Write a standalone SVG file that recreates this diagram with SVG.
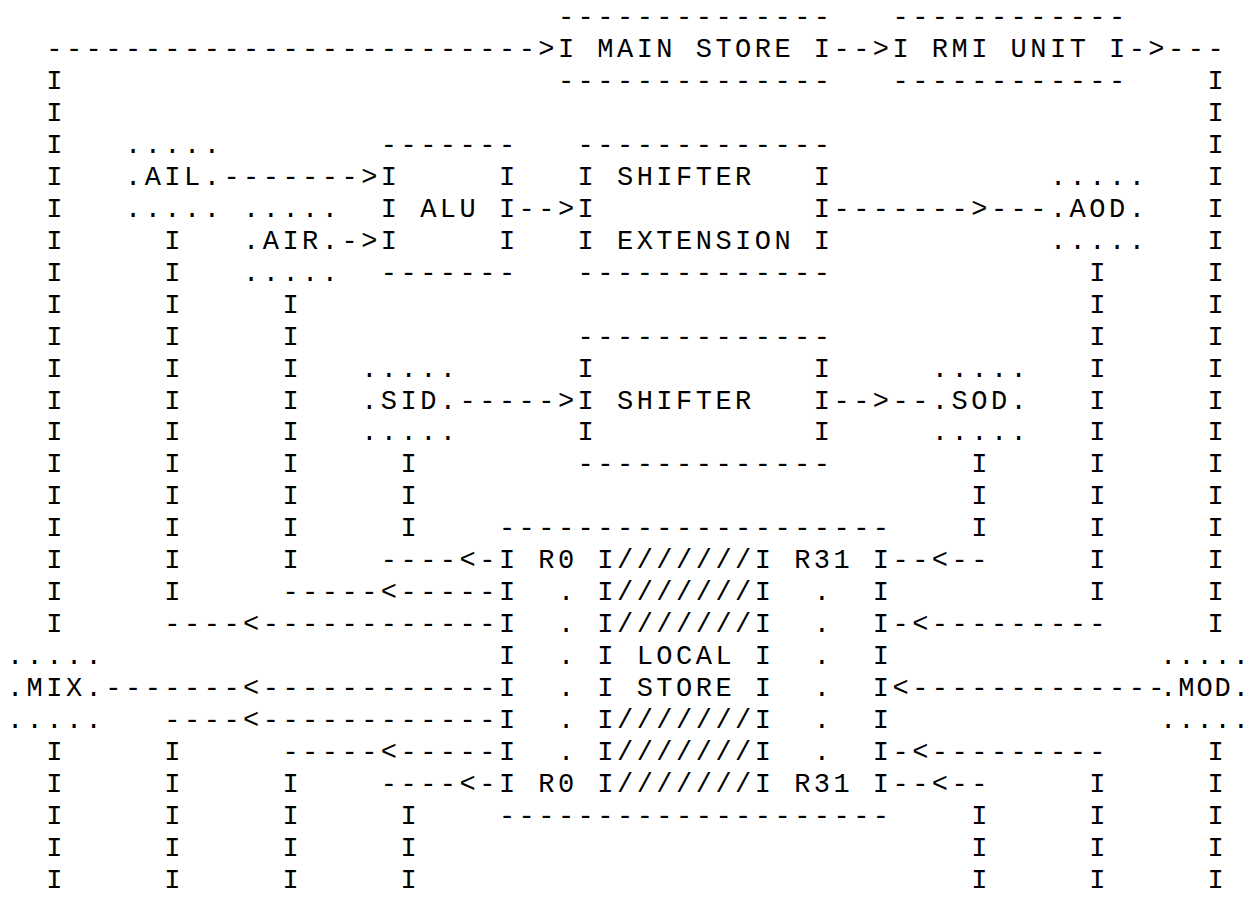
<svg xmlns="http://www.w3.org/2000/svg" width="1252" height="898" viewBox="0 0 1252 898" xml:space="preserve">
<style>
text{font-family:"Liberation Mono","DejaVu Sans Mono",monospace;font-size:27px;letter-spacing:3.48px;fill:#000;white-space:pre}
#mod text{letter-spacing:2px}
</style>
<rect width="1252" height="898" fill="#fff"/>
<g id="main-store">
<text x="557.94" y="25">--------------</text>
<text x="557.94" y="56.96">I MAIN STORE I</text>
<text x="557.94" y="88.92">--------------</text>
</g>
<g id="rmi-unit">
<text x="892.5" y="25">------------</text>
<text x="892.5" y="56.96">I RMI UNIT I</text>
<text x="892.5" y="88.92">------------</text>
</g>
<g id="ail">
<text x="124.98" y="152.84">.....</text>
<text x="124.98" y="184.8">.AIL.</text>
<text x="124.98" y="216.76">.....</text>
</g>
<g id="air">
<text x="243.06" y="216.76">.....</text>
<text x="243.06" y="248.72">.AIR.</text>
<text x="243.06" y="280.68">.....</text>
</g>
<g id="alu">
<text x="380.82" y="152.84">-------</text>
<text x="380.82" y="184.8">I     I</text>
<text x="380.82" y="216.76">I ALU I</text>
<text x="380.82" y="248.72">I     I</text>
<text x="380.82" y="280.68">-------</text>
</g>
<g id="shifter-extension">
<text x="577.62" y="152.84">-------------</text>
<text x="577.62" y="184.8">I SHIFTER   I</text>
<text x="577.62" y="216.76">I           I</text>
<text x="577.62" y="248.72">I EXTENSION I</text>
<text x="577.62" y="280.68">-------------</text>
</g>
<g id="aod">
<text x="1049.94" y="184.8">.....</text>
<text x="1049.94" y="216.76">.AOD.</text>
<text x="1049.94" y="248.72">.....</text>
</g>
<g id="sid">
<text x="361.14" y="376.56">.....</text>
<text x="361.14" y="408.52">.SID.</text>
<text x="361.14" y="440.48">.....</text>
</g>
<g id="shifter">
<text x="577.62" y="344.6">-------------</text>
<text x="577.62" y="376.56">I           I</text>
<text x="577.62" y="408.52">I SHIFTER   I</text>
<text x="577.62" y="440.48">I           I</text>
<text x="577.62" y="472.44">-------------</text>
</g>
<g id="sod">
<text x="931.86" y="376.56">.....</text>
<text x="931.86" y="408.52">.SOD.</text>
<text x="931.86" y="440.48">.....</text>
</g>
<g id="local-store">
<text x="498.9" y="536.36">--------------------</text>
<text x="498.9" y="568.32">I R0 I///////I R31 I</text>
<text x="498.9" y="600.28">I  . I///////I  .  I</text>
<text x="498.9" y="632.24">I  . I///////I  .  I</text>
<text x="498.9" y="664.2">I  . I LOCAL I  .  I</text>
<text x="498.9" y="696.16">I  . I STORE I  .  I</text>
<text x="498.9" y="728.12">I  . I///////I  .  I</text>
<text x="498.9" y="760.08">I  . I///////I  .  I</text>
<text x="498.9" y="792.04">I R0 I///////I R31 I</text>
<text x="498.9" y="824">--------------------</text>
</g>
<g id="mix">
<text x="6.9" y="664.2">.....</text>
<text x="6.9" y="696.16">.MIX.</text>
<text x="6.9" y="728.12">.....</text>
</g>
<g id="mod">
<text x="1160" y="664.2">.....</text>
<text x="1160" y="696.16">.MOD.</text>
<text x="1160" y="728.12">.....</text>
</g>
<g id="connectors">
<text x="46.26" y="56.96">-------------------------&gt;</text>
<text x="833.46" y="56.96">--&gt;</text>
<text x="1128.66" y="56.96">-&gt;---</text>
<text x="223.38" y="184.8">-------&gt;</text>
<text x="518.58" y="216.76">--&gt;</text>
<text x="833.46" y="216.76">-------&gt;---</text>
<text x="341.46" y="248.72">-&gt;</text>
<text x="459.54" y="408.52">-----&gt;</text>
<text x="833.46" y="408.52">--&gt;--</text>
<text x="380.82" y="568.32">----&lt;-</text>
<text x="892.5" y="568.32">--&lt;--</text>
<text x="282.42" y="600.28">-----&lt;-----</text>
<text x="164.34" y="632.24">----&lt;------------</text>
<text x="892.5" y="632.24">-&lt;---------</text>
<text x="105.3" y="696.16">-------&lt;------------</text>
<text x="892.5" y="696.16">&lt;-------------</text>
<text x="164.34" y="728.12">----&lt;------------</text>
<text x="282.42" y="760.08">-----&lt;-----</text>
<text x="892.5" y="760.08">-&lt;---------</text>
<text x="380.82" y="792.04">----&lt;-</text>
<text x="892.5" y="792.04">--&lt;--</text>
<text><tspan x="46.26" y="88.92">I</tspan><tspan x="46.26" y="120.88">I</tspan><tspan x="46.26" y="152.84">I</tspan><tspan x="46.26" y="184.8">I</tspan><tspan x="46.26" y="216.76">I</tspan><tspan x="46.26" y="248.72">I</tspan><tspan x="46.26" y="280.68">I</tspan><tspan x="46.26" y="312.64">I</tspan><tspan x="46.26" y="344.6">I</tspan><tspan x="46.26" y="376.56">I</tspan><tspan x="46.26" y="408.52">I</tspan><tspan x="46.26" y="440.48">I</tspan><tspan x="46.26" y="472.44">I</tspan><tspan x="46.26" y="504.4">I</tspan><tspan x="46.26" y="536.36">I</tspan><tspan x="46.26" y="568.32">I</tspan><tspan x="46.26" y="600.28">I</tspan><tspan x="46.26" y="632.24">I</tspan><tspan x="46.26" y="760.08">I</tspan><tspan x="46.26" y="792.04">I</tspan><tspan x="46.26" y="824">I</tspan><tspan x="46.26" y="855.96">I</tspan><tspan x="46.26" y="887.92">I</tspan></text>
<text><tspan x="1207.38" y="88.92">I</tspan><tspan x="1207.38" y="120.88">I</tspan><tspan x="1207.38" y="152.84">I</tspan><tspan x="1207.38" y="184.8">I</tspan><tspan x="1207.38" y="216.76">I</tspan><tspan x="1207.38" y="248.72">I</tspan><tspan x="1207.38" y="280.68">I</tspan><tspan x="1207.38" y="312.64">I</tspan><tspan x="1207.38" y="344.6">I</tspan><tspan x="1207.38" y="376.56">I</tspan><tspan x="1207.38" y="408.52">I</tspan><tspan x="1207.38" y="440.48">I</tspan><tspan x="1207.38" y="472.44">I</tspan><tspan x="1207.38" y="504.4">I</tspan><tspan x="1207.38" y="536.36">I</tspan><tspan x="1207.38" y="568.32">I</tspan><tspan x="1207.38" y="600.28">I</tspan><tspan x="1207.38" y="632.24">I</tspan><tspan x="1207.38" y="760.08">I</tspan><tspan x="1207.38" y="792.04">I</tspan><tspan x="1207.38" y="824">I</tspan><tspan x="1207.38" y="855.96">I</tspan><tspan x="1207.38" y="887.92">I</tspan></text>
<text><tspan x="164.34" y="248.72">I</tspan><tspan x="164.34" y="280.68">I</tspan><tspan x="164.34" y="312.64">I</tspan><tspan x="164.34" y="344.6">I</tspan><tspan x="164.34" y="376.56">I</tspan><tspan x="164.34" y="408.52">I</tspan><tspan x="164.34" y="440.48">I</tspan><tspan x="164.34" y="472.44">I</tspan><tspan x="164.34" y="504.4">I</tspan><tspan x="164.34" y="536.36">I</tspan><tspan x="164.34" y="568.32">I</tspan><tspan x="164.34" y="600.28">I</tspan><tspan x="164.34" y="760.08">I</tspan><tspan x="164.34" y="792.04">I</tspan><tspan x="164.34" y="824">I</tspan><tspan x="164.34" y="855.96">I</tspan><tspan x="164.34" y="887.92">I</tspan></text>
<text><tspan x="282.42" y="312.64">I</tspan><tspan x="282.42" y="344.6">I</tspan><tspan x="282.42" y="376.56">I</tspan><tspan x="282.42" y="408.52">I</tspan><tspan x="282.42" y="440.48">I</tspan><tspan x="282.42" y="472.44">I</tspan><tspan x="282.42" y="504.4">I</tspan><tspan x="282.42" y="536.36">I</tspan><tspan x="282.42" y="568.32">I</tspan><tspan x="282.42" y="792.04">I</tspan><tspan x="282.42" y="824">I</tspan><tspan x="282.42" y="855.96">I</tspan><tspan x="282.42" y="887.92">I</tspan></text>
<text><tspan x="400.5" y="472.44">I</tspan><tspan x="400.5" y="504.4">I</tspan><tspan x="400.5" y="536.36">I</tspan><tspan x="400.5" y="824">I</tspan><tspan x="400.5" y="855.96">I</tspan><tspan x="400.5" y="887.92">I</tspan></text>
<text><tspan x="971.22" y="472.44">I</tspan><tspan x="971.22" y="504.4">I</tspan><tspan x="971.22" y="536.36">I</tspan><tspan x="971.22" y="824">I</tspan><tspan x="971.22" y="855.96">I</tspan><tspan x="971.22" y="887.92">I</tspan></text>
<text><tspan x="1089.3" y="280.68">I</tspan><tspan x="1089.3" y="312.64">I</tspan><tspan x="1089.3" y="344.6">I</tspan><tspan x="1089.3" y="376.56">I</tspan><tspan x="1089.3" y="408.52">I</tspan><tspan x="1089.3" y="440.48">I</tspan><tspan x="1089.3" y="472.44">I</tspan><tspan x="1089.3" y="504.4">I</tspan><tspan x="1089.3" y="536.36">I</tspan><tspan x="1089.3" y="568.32">I</tspan><tspan x="1089.3" y="600.28">I</tspan><tspan x="1089.3" y="792.04">I</tspan><tspan x="1089.3" y="824">I</tspan><tspan x="1089.3" y="855.96">I</tspan><tspan x="1089.3" y="887.92">I</tspan></text>
</g>
</svg>
